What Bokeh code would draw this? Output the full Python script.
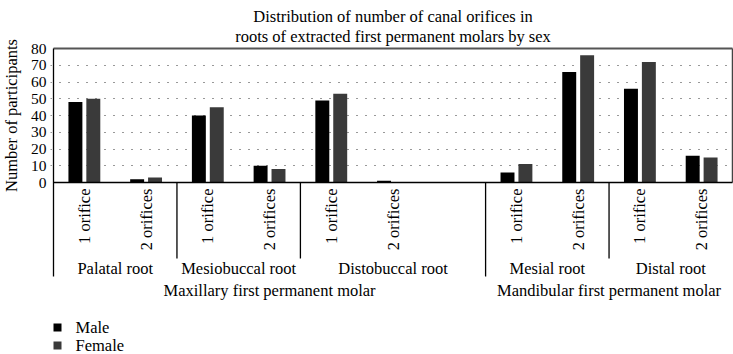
import numpy as np
from bokeh.plotting import figure
from bokeh.layouts import row
from bokeh.models import Range1d, FixedTicker
from bokeh.core.properties import value
from bokeh.embed import file_html
from bokeh.resources import INLINE

# ---------------- data ----------------
title_lines = ["Distribution of number of canal orifices in",
               "roots of extracted first permanent molars by sex"]
molars = ["Maxillary first permanent molar", "Mandibular first permanent molar"]
roots = ["Palatal root", "Mesiobuccal root", "Distobuccal root", "Mesial root", "Distal root"]
root_molar = [0, 0, 0, 1, 1]
orifice_labels = ["1 orifice", "2 orifices"]
male = [48, 2, 40, 10, 49, 1, 6, 66, 56, 16]
female = [50, 3, 45, 8, 53, 0, 11, 76, 72, 15]
series = ["Male", "Female"]
colors = ["#000000", "#3a3a3a"]
y_ticks = [0, 10, 20, 30, 40, 50, 60, 70, 80]
y_title = "Number of participants"

# ---------------- layout helpers ----------------
root_slots = [2, 2, 3, 2, 2]          # Distobuccal root is followed by an empty slot
FONT_NAME = "Liberation Serif"
FONT = value(FONT_NAME)
FS = "16.5px"
PX_X = 679 / 11.0
PX_Y = 134 / 80.0                      # 0 -> y=182, 80 -> y=48
LABEL_W = 22                           # width of the strip holding the y-axis title


def dy(screen_y):
    return (182 - screen_y) / PX_Y


def dx(screen_x):
    return (screen_x - 53) / PX_X


centers, cat_labels, root_start, root_end = [], [], [], []
s = 0
for r, n in enumerate(root_slots):
    root_start.append(s)
    for k in range(2):
        centers.append(s + k + 0.5)
        cat_labels.append(orifice_labels[k])
    s += n
    root_end.append(s)
n_slots = s
centers = np.array(centers)

yr = Range1d(dy(354), dy(0))

# narrow strip with the y-axis title, centred on the 0-80 value span
pl = figure(width=LABEL_W, height=354, output_backend="svg", toolbar_location=None,
            x_range=Range1d(0, 1), y_range=yr,
            min_border_left=0, min_border_right=0, min_border_top=0, min_border_bottom=0)
pl.axis.visible = False
pl.grid.visible = False
pl.outline_line_color = None
pl.text(x=[0.5], y=[(y_ticks[0] + y_ticks[-1]) / 2], text=[y_title], angle=np.pi / 2,
        text_align="center", text_baseline="middle", text_font=FONT, text_font_size=FS,
        text_color="#000000")

p = figure(width=733 - LABEL_W, height=354, output_backend="svg", toolbar_location=None,
           x_range=Range1d(-3 / PX_X, n_slots + 1 / PX_X), y_range=yr,
           min_border_left=50 - LABEL_W, min_border_right=0, min_border_top=0, min_border_bottom=0)
p.outline_line_color = None
p.xaxis.visible = False
p.xgrid.visible = False

yax = p.yaxis[0]
yax.ticker = FixedTicker(ticks=y_ticks)
yax.bounds = (y_ticks[0], y_ticks[-1])
yax.axis_line_color = None
yax.major_tick_line_color = None
yax.minor_tick_line_color = None
yax.major_tick_out = 0
yax.major_tick_in = 0
yax.major_label_standoff = 4
yax.major_label_text_font = FONT_NAME
yax.major_label_text_font_size = "15.5px"
yax.major_label_text_color = "#000000"

p.ygrid.ticker = FixedTicker(ticks=y_ticks[1:-1])
p.ygrid.grid_line_color = "#333333"
p.ygrid.grid_line_dash = "1 8"
p.ygrid.grid_line_width = 1.2

# bars
bw = 0.226
off = 0.145
p.vbar(x=centers - off, top=male, bottom=0, width=bw, fill_color=colors[0], line_color=None)
p.vbar(x=centers + off, top=female, bottom=0, width=bw, fill_color=colors[1], line_color=None)

# frame box
p.segment(x0=[0], y0=[y_ticks[-1]], x1=[n_slots], y1=[y_ticks[-1]], line_color="#555555", line_width=2)
p.segment(x0=[n_slots], y0=[y_ticks[-1]], x1=[n_slots], y1=[0], line_color="#444444", line_width=1.5)
p.segment(x0=[0], y0=[0], x1=[n_slots], y1=[0], line_color="#000000", line_width=1.5)

# separators: left edge (full height), molar boundaries (long), root boundaries (short)
p.segment(x0=[0], y0=[y_ticks[-1]], x1=[0], y1=[dy(276)], line_color="#000000", line_width=1.3)
long_x = []
short_x = []
for r in range(1, len(roots)):
    if root_molar[r] != root_molar[r - 1]:
        long_x.append(root_start[r])
    else:
        short_x.append(root_start[r])
p.segment(x0=long_x, y0=[0] * len(long_x), x1=long_x, y1=[dy(276)] * len(long_x),
          line_color="#000000", line_width=1.3)
p.segment(x0=short_x, y0=[0] * len(short_x), x1=short_x, y1=[dy(258)] * len(short_x),
          line_color="#000000", line_width=1.3)

# tier 1: orifice labels (rotated)
p.text(x=centers, y=[dy(188)] * len(centers), text=cat_labels, angle=np.pi / 2,
       text_align="right", text_baseline="middle", text_font=FONT, text_font_size=FS,
       text_color="#000000")

# tier 2: root labels
root_cx = [root_start[i] + 1 if root_slots[i] == 2 else (root_start[i] + root_end[i]) / 2
           for i in range(len(roots))]
p.text(x=root_cx, y=[dy(268)] * len(roots), text=roots, text_align="center", text_baseline="middle",
       text_font=FONT, text_font_size=FS, text_color="#000000")

# tier 3: molar labels
mol_cx = []
for m in range(len(molars)):
    idx = [i for i in range(len(roots)) if root_molar[i] == m]
    mol_cx.append((root_start[idx[0]] + root_end[idx[-1]]) / 2)
p.text(x=mol_cx, y=[dy(290)] * len(molars), text=molars, text_align="center", text_baseline="middle",
       text_font=FONT, text_font_size=FS, text_color="#000000")

# title
p.text(x=[n_slots / 2] * 2, y=[dy(16), dy(36)], text=title_lines, text_align="center",
       text_baseline="middle", text_font=FONT, text_font_size=FS, text_color="#000000")

# legend
p.scatter(x=[dx(57)] * 2, y=[dy(327), dy(345)], marker="square", size=8,
          fill_color=colors, line_color=None)
p.text(x=[dx(75)] * 2, y=[dy(327), dy(345)], text=series, text_align="left", text_baseline="middle",
       text_font=FONT, text_font_size=FS, text_color="#000000")

layout = row(pl, p, spacing=0)
open("out.html", "w").write(file_html(layout, INLINE))
